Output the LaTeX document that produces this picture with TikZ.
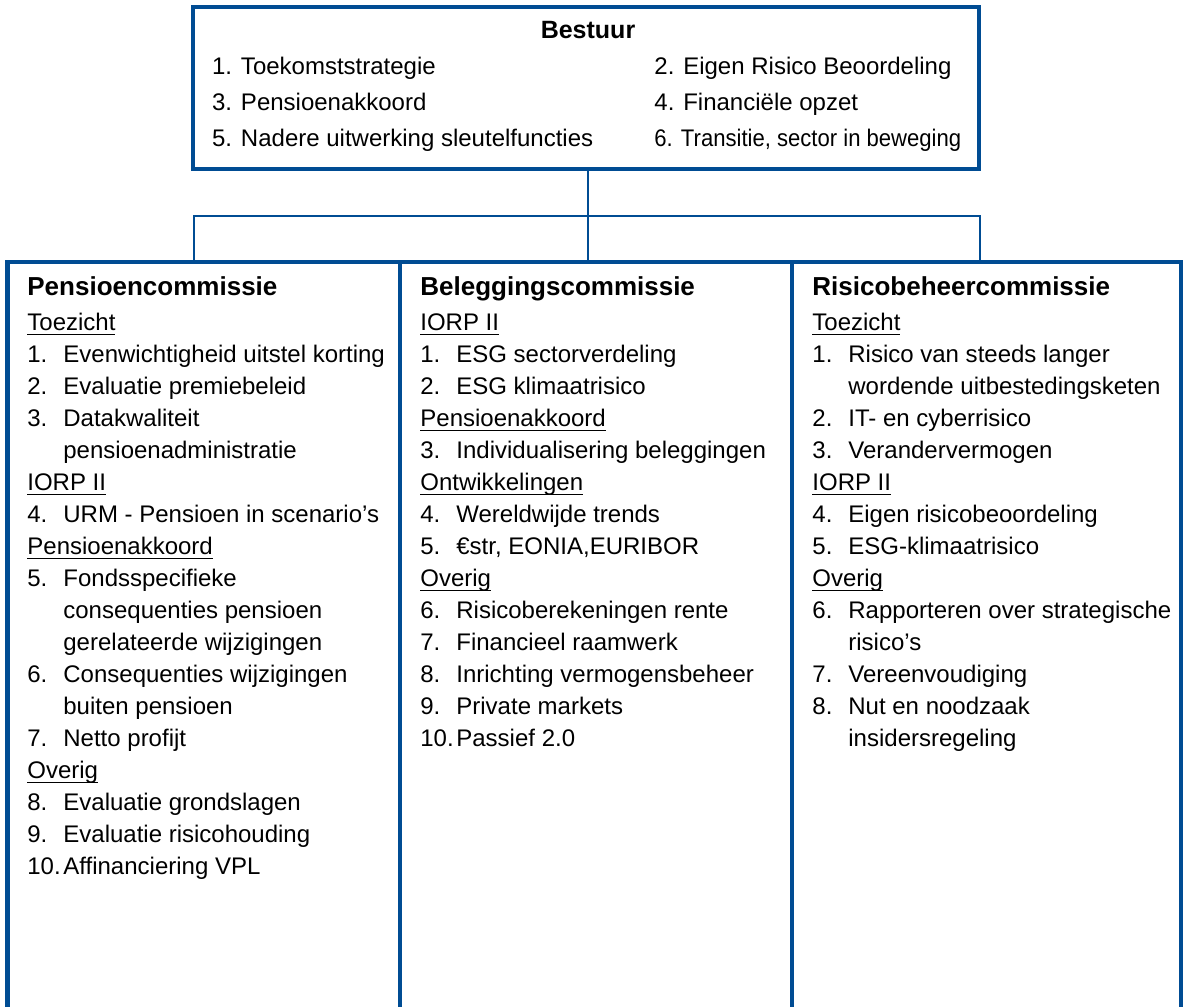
\documentclass[tikz,border=0pt]{standalone}
\usepackage{fontspec}
\setmainfont{Liberation Sans}
\definecolor{pfblauw}{RGB}{0,76,147}
% genummerd punt met hangende inspringing
\newcommand{\itm}[2]{\makebox[18pt][l]{#1}#2}
\newcommand{\vervolg}[1]{\hspace*{18pt}#1}
% onderstreepte kop
\newcommand{\kop}[1]{\setbox0\hbox{#1}\rlap{\rule[-2.6pt]{\wd0}{0.8pt}}\box0}
\newcommand{\titel}[1]{{\fontsize{13}{16}\selectfont\bfseries #1}}
\begin{document}
\begin{tikzpicture}[x=0.5pt,y=-0.5pt,
  kader/.style={draw=pfblauw,line width=2.35pt,inner sep=0pt},
  lijn/.style={draw=pfblauw,line width=1pt},
  tekst/.style={anchor=base west,inner sep=0pt,font=\fontsize{12}{16}\selectfont}]
  % Canvas
  \useasboundingbox (0,0) rectangle (1193,1006);
  \clip (0,0) rectangle (1193,1006);
  % Bestuur
  \node[kader,minimum width=393pt,minimum height=81pt] (bestuur) at (586,88) {};
  \node[anchor=base,inner sep=0pt,font=\fontsize{12.5}{15}\selectfont\bfseries] (btitel) at (588,39) {Bestuur};
  \node[tekst,font=\fontsize{12}{18}\selectfont] (blinks) at (211.7,75) {\begin{tabular}[t]{@{}l@{}}
    1. Toekomststrategie\\
    3. Pensioenakkoord\\
    5. Nadere uitwerking sleutelfuncties
  \end{tabular}};
  \node[tekst,font=\fontsize{12}{18}\selectfont] (brechts) at (654,75) {\begin{tabular}[t]{@{}l@{}}
    2. Eigen Risico Beoordeling\\
    4. Financiële opzet\\
    \scalebox{0.92}[1]{6. Transitie, sector in beweging}
  \end{tabular}};
  % Commissies
  \node[kader,minimum width=196.25pt,minimum height=384pt] (pc) at (203.75,646) {};
  \node[kader,minimum width=196pt,minimum height=384pt] (bc) at (596,646) {};
  \node[kader,minimum width=194.5pt,minimum height=384pt] (rc) at (986.5,646) {};
  \node[tekst] (pctekst) at (27,295) {\begin{tabular}[t]{@{}l@{}}
    \titel{Pensioencommissie}\\[1.5pt]
    \kop{Toezicht}\\
    \itm{1.}{Evenwichtigheid uitstel korting}\\
    \itm{2.}{Evaluatie premiebeleid}\\
    \itm{3.}{Datakwaliteit}\\
    \vervolg{pensioenadministratie}\\
    \kop{IORP II}\\
    \itm{4.}{URM - Pensioen in scenario’s}\\
    \kop{Pensioenakkoord}\\
    \itm{5.}{Fondsspecifieke}\\
    \vervolg{consequenties pensioen}\\
    \vervolg{gerelateerde wijzigingen}\\
    \itm{6.}{Consequenties wijzigingen}\\
    \vervolg{buiten pensioen}\\
    \itm{7.}{Netto profijt}\\
    \kop{Overig}\\
    \itm{8.}{Evaluatie grondslagen}\\
    \itm{9.}{Evaluatie risicohouding}\\
    \itm{10.}{Affinanciering VPL}
  \end{tabular}};
  \node[tekst] (bctekst) at (420,295) {\begin{tabular}[t]{@{}l@{}}
    \titel{Beleggingscommissie}\\[1.5pt]
    \kop{IORP II}\\
    \itm{1.}{ESG sectorverdeling}\\
    \itm{2.}{ESG klimaatrisico}\\
    \kop{Pensioenakkoord}\\
    \itm{3.}{Individualisering beleggingen}\\
    \kop{Ontwikkelingen}\\
    \itm{4.}{Wereldwijde trends}\\
    \itm{5.}{€str, EONIA,EURIBOR}\\
    \kop{Overig}\\
    \itm{6.}{Risicoberekeningen rente}\\
    \itm{7.}{Financieel raamwerk}\\
    \itm{8.}{Inrichting vermogensbeheer}\\
    \itm{9.}{Private markets}\\
    \itm{10.}{Passief 2.0}
  \end{tabular}};
  \node[tekst] (rctekst) at (812,295) {\begin{tabular}[t]{@{}l@{}}
    \titel{Risicobeheercommissie}\\[1.5pt]
    \kop{Toezicht}\\
    \itm{1.}{Risico van steeds langer}\\
    \vervolg{wordende uitbestedingsketen}\\
    \itm{2.}{IT- en cyberrisico}\\
    \itm{3.}{Verandervermogen}\\
    \kop{IORP II}\\
    \itm{4.}{Eigen risicobeoordeling}\\
    \itm{5.}{ESG-klimaatrisico}\\
    \kop{Overig}\\
    \itm{6.}{Rapporteren over strategische}\\
    \vervolg{risico’s}\\
    \itm{7.}{Vereenvoudiging}\\
    \itm{8.}{Nut en noodzaak}\\
    \vervolg{insidersregeling}
  \end{tabular}};
  % Verbindingen
  \coordinate (split) at (588,216);
  \coordinate (pcin) at (194,262);
  \coordinate (bcin) at (588,262);
  \coordinate (rcin) at (980,262);
  \draw[lijn] (bestuur.south -| split) -- (bcin);
  \draw[lijn] (pcin) |- (split) -| (rcin);
\end{tikzpicture}
\end{document}
